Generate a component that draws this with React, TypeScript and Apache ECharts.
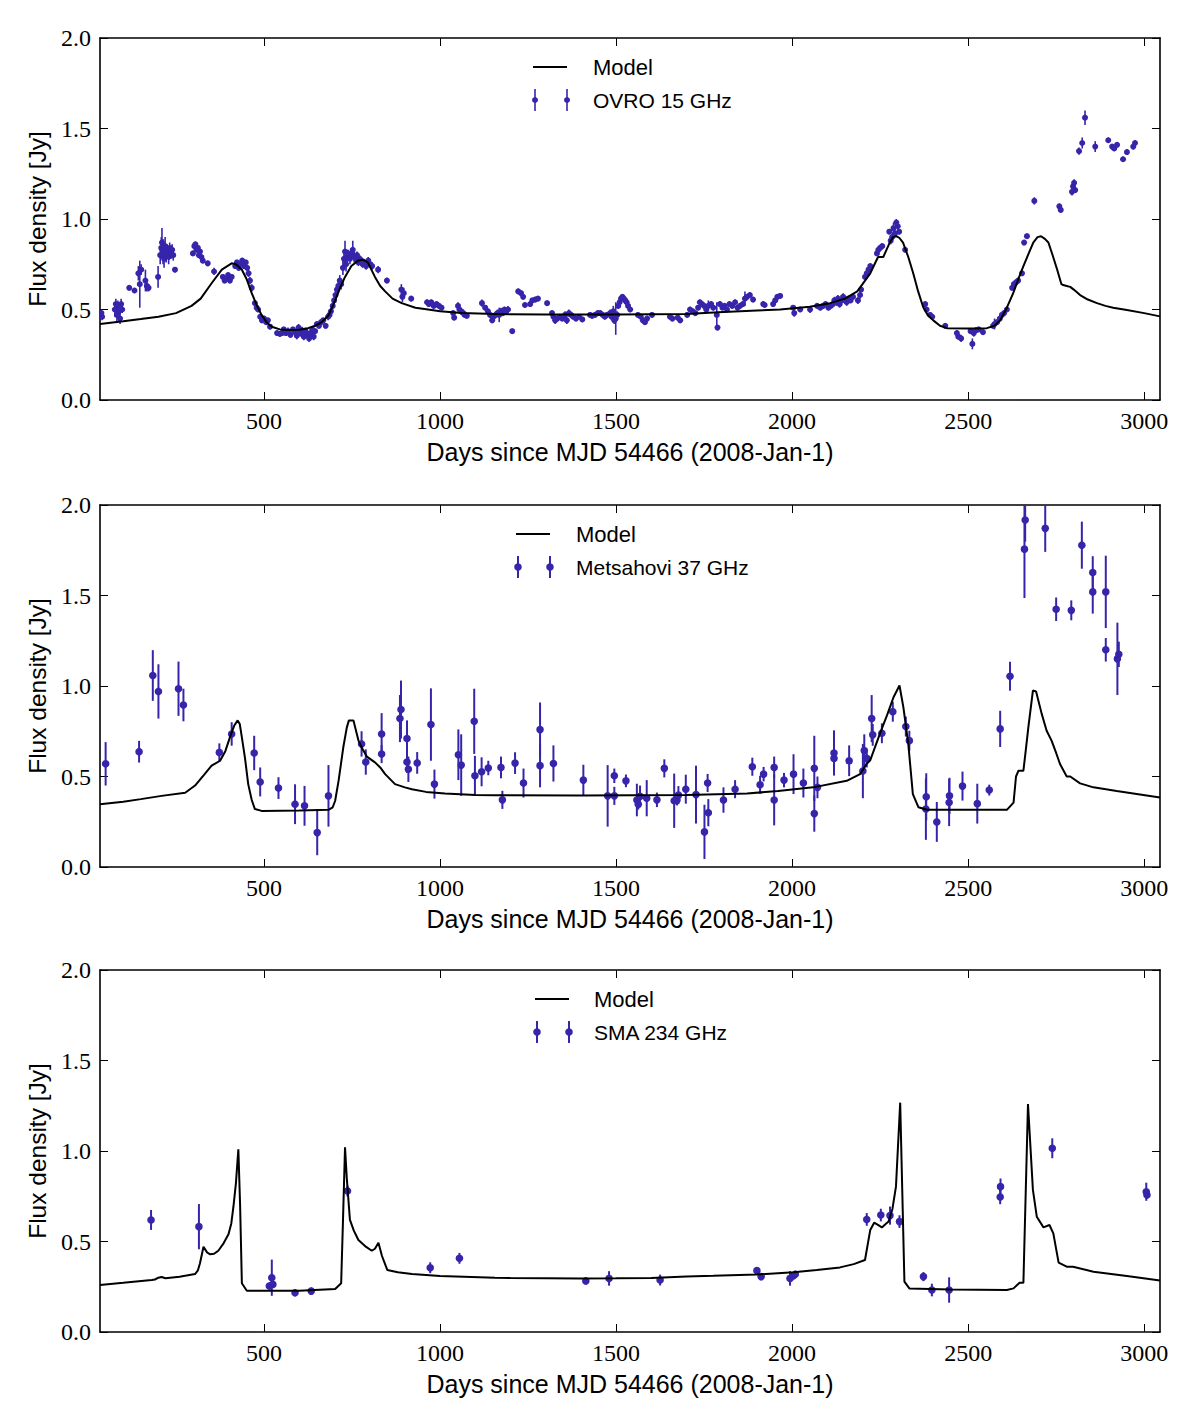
import React, { useEffect, useRef } from "react";
import * as echarts from "echarts";

// ---- Data: [day, flux density (Jy), 1-sigma error] ----
const ovroData: number[][] = [
  [38,0.48,0.02],[40,0.46,0.02],[76,0.50,0.04],[79,0.53,0.03],[82,0.47,0.04],[85,0.52,0.03],[88,0.49,0.05],[91,0.45,0.03],[94,0.53,0.03],[97,0.50,0.02],
  [117,0.62,0.015],[132,0.605,0.015],[143,0.70,0.04],[147,0.64,0.13],[151,0.72,0.03],[163,0.66,0.06],[167,0.63,0.03],[172,0.62,0.02],
  [199,0.68,0.06],[205,0.80,0.05],[208,0.84,0.06],[210,0.87,0.08],[213,0.82,0.07],[216,0.78,0.05],[219,0.85,0.05],[222,0.80,0.04],[225,0.83,0.03],[229,0.79,0.04],[232,0.84,0.03],[236,0.81,0.03],[239,0.83,0.03],[242,0.80,0.03],[247,0.72,0.015],
  [298,0.81,0.015],[302,0.85,0.015],[305,0.86,0.015],[308,0.83,0.015],[312,0.84,0.015],[315,0.80,0.015],[318,0.82,0.015],[322,0.79,0.015],[326,0.77,0.015],[340,0.755,0.015],[358,0.71,0.02],
  [383,0.68,0.015],[388,0.66,0.015],[393,0.67,0.015],[398,0.69,0.015],[403,0.66,0.015],[408,0.68,0.015],[418,0.74,0.015],[423,0.76,0.015],[428,0.73,0.015],[433,0.75,0.015],[438,0.77,0.015],[443,0.74,0.015],[448,0.76,0.015],[452,0.73,0.015],[456,0.70,0.02],[460,0.66,0.02],[465,0.62,0.02],
  [474,0.535,0.015],[479,0.51,0.015],[483,0.50,0.015],[489,0.46,0.015],[494,0.44,0.015],[500,0.45,0.015],[506,0.43,0.015],[511,0.44,0.015],[517,0.405,0.015],[537,0.37,0.015],[545,0.365,0.015],[551,0.37,0.015],
  [556,0.39,0.015],[562,0.37,0.015],[568,0.38,0.02],[575,0.36,0.015],[582,0.39,0.015],[588,0.375,0.02],[593,0.355,0.02],[598,0.40,0.02],[603,0.37,0.02],[608,0.385,0.02],[613,0.35,0.02],[618,0.38,0.02],[623,0.36,0.02],[628,0.34,0.02],[632,0.37,0.02],[637,0.39,0.015],[641,0.35,0.02],[645,0.38,0.015],
  [650,0.42,0.015],[656,0.41,0.015],[662,0.43,0.015],[668,0.44,0.015],[675,0.41,0.015],[682,0.46,0.02],[686,0.47,0.02],[690,0.49,0.02],[695,0.52,0.02],[699,0.55,0.03],[703,0.58,0.03],[707,0.61,0.03],[711,0.63,0.03],[715,0.66,0.03],[719,0.64,0.03],
  [724,0.73,0.04],[727,0.78,0.05],[730,0.82,0.06],[733,0.75,0.04],[736,0.79,0.04],[740,0.80,0.03],[744,0.78,0.03],[748,0.81,0.03],[752,0.83,0.05],[756,0.79,0.03],[760,0.78,0.02],[764,0.80,0.02],[768,0.76,0.02],[772,0.78,0.02],[776,0.77,0.02],[780,0.75,0.02],[784,0.76,0.02],[790,0.74,0.02],[796,0.77,0.02],[802,0.75,0.02],[807,0.74,0.02],
  [824,0.72,0.02],[849,0.66,0.015],[890,0.61,0.03],[893,0.57,0.03],[897,0.59,0.03],[918,0.56,0.015],
  [963,0.54,0.015],[968,0.53,0.015],[975,0.54,0.015],[982,0.52,0.015],[990,0.53,0.015],[997,0.52,0.015],[1004,0.51,0.015],
  [1037,0.48,0.015],[1040,0.455,0.015],[1051,0.52,0.02],[1055,0.50,0.02],[1060,0.49,0.02],[1066,0.48,0.02],[1070,0.47,0.015],[1076,0.465,0.015],[1119,0.535,0.02],
  [1128,0.51,0.015],[1136,0.49,0.015],[1142,0.47,0.015],[1148,0.44,0.015],[1152,0.46,0.015],[1158,0.47,0.015],[1163,0.48,0.02],[1168,0.47,0.04],[1173,0.49,0.02],[1178,0.48,0.015],[1183,0.50,0.015],[1188,0.49,0.015],[1193,0.50,0.02],[1205,0.38,0.015],
  [1222,0.60,0.015],[1230,0.59,0.015],[1236,0.57,0.015],[1241,0.525,0.015],[1256,0.53,0.015],[1262,0.55,0.015],[1270,0.555,0.015],[1278,0.56,0.015],[1304,0.535,0.015],
  [1318,0.48,0.015],[1322,0.46,0.02],[1327,0.44,0.02],[1333,0.45,0.015],[1340,0.46,0.015],[1347,0.45,0.015],[1355,0.47,0.02],[1360,0.44,0.02],[1366,0.48,0.02],[1372,0.47,0.015],[1378,0.46,0.015],[1386,0.45,0.015],[1395,0.46,0.015],[1404,0.445,0.015],
  [1426,0.47,0.015],[1432,0.465,0.015],[1440,0.47,0.015],[1448,0.48,0.015],[1455,0.48,0.015],[1462,0.47,0.015],[1468,0.46,0.015],[1474,0.47,0.015],
  [1483,0.48,0.02],[1487,0.46,0.02],[1492,0.49,0.03],[1495,0.44,0.02],[1499,0.45,0.09],[1503,0.47,0.02],
  [1506,0.52,0.015],[1510,0.54,0.015],[1514,0.56,0.015],[1518,0.57,0.015],[1522,0.56,0.015],[1526,0.55,0.015],[1530,0.54,0.015],[1534,0.52,0.015],[1540,0.50,0.015],
  [1562,0.47,0.015],[1570,0.46,0.015],[1576,0.44,0.015],[1582,0.43,0.015],[1588,0.45,0.015],[1602,0.47,0.015],
  [1653,0.46,0.015],[1660,0.45,0.015],[1675,0.455,0.015],[1682,0.44,0.015],
  [1702,0.47,0.015],[1710,0.50,0.015],[1718,0.49,0.015],[1725,0.48,0.015],[1733,0.51,0.015],[1738,0.54,0.015],[1744,0.53,0.015],[1750,0.52,0.015],[1756,0.50,0.015],[1762,0.52,0.03],[1770,0.53,0.015],[1776,0.51,0.015],[1786,0.47,0.07],[1788,0.40,0.015],
  [1795,0.53,0.015],[1802,0.51,0.015],[1808,0.52,0.015],[1815,0.50,0.015],[1822,0.53,0.015],[1830,0.52,0.015],[1838,0.54,0.015],[1845,0.51,0.015],[1852,0.52,0.015],[1860,0.53,0.015],
  [1866,0.56,0.04],[1872,0.57,0.015],[1880,0.58,0.015],[1889,0.555,0.015],[1918,0.53,0.015],[1922,0.525,0.015],
  [1946,0.53,0.015],[1952,0.55,0.015],[1958,0.57,0.015],[1966,0.575,0.015],
  [2003,0.51,0.015],[2006,0.48,0.02],[2023,0.50,0.015],[2051,0.50,0.02],
  [2071,0.52,0.015],[2080,0.51,0.015],[2088,0.52,0.015],[2095,0.53,0.015],[2103,0.51,0.015],[2110,0.52,0.015],[2116,0.53,0.015],
  [2120,0.55,0.02],[2126,0.54,0.02],[2130,0.56,0.02],[2135,0.53,0.02],[2140,0.55,0.03],[2145,0.57,0.02],[2150,0.55,0.02],[2155,0.54,0.02],[2160,0.56,0.015],[2166,0.55,0.015],[2173,0.57,0.015],[2187,0.55,0.02],
  [2193,0.58,0.02],[2196,0.61,0.015],[2207,0.68,0.015],[2212,0.70,0.015],[2217,0.72,0.015],[2222,0.74,0.015],
  [2241,0.81,0.015],[2245,0.83,0.015],[2250,0.84,0.015],[2256,0.85,0.015],[2276,0.93,0.015],[2280,0.88,0.02],[2284,0.90,0.02],[2288,0.95,0.03],[2292,0.92,0.02],[2296,0.98,0.02],[2300,0.96,0.02],[2304,0.93,0.015],[2321,0.83,0.015],
  [2378,0.53,0.015],[2382,0.50,0.015],[2392,0.47,0.015],[2398,0.46,0.015],[2435,0.41,0.015],
  [2468,0.37,0.015],[2472,0.35,0.015],[2480,0.34,0.02],[2507,0.38,0.015],[2512,0.31,0.03],[2516,0.37,0.02],[2522,0.385,0.015],[2530,0.39,0.015],[2542,0.375,0.015],
  [2571,0.41,0.015],[2575,0.42,0.03],[2582,0.43,0.015],[2590,0.45,0.015],[2596,0.47,0.015],[2602,0.48,0.015],[2610,0.50,0.015],
  [2625,0.62,0.015],[2630,0.64,0.015],[2636,0.65,0.015],[2642,0.66,0.015],[2653,0.70,0.015],[2659,0.87,0.015],[2667,0.905,0.015],[2688,1.10,0.02],
  [2759,1.07,0.015],[2763,1.05,0.015],[2795,1.15,0.02],[2798,1.18,0.02],[2801,1.20,0.02],[2804,1.16,0.015],[2815,1.375,0.02],[2824,1.42,0.03],[2832,1.56,0.04],[2861,1.40,0.03],[2898,1.435,0.015],[2909,1.40,0.015],[2915,1.39,0.015],[2923,1.41,0.015],[2940,1.33,0.015],[2951,1.37,0.015],[2969,1.40,0.015],[2974,1.42,0.015],
];

const metsahoviData: number[][] = [
  [50,0.57,0.12],[145,0.637,0.06],[184,1.058,0.14],[200,0.97,0.15],[257,0.985,0.15],[271,0.895,0.09],[373,0.633,0.05],[408,0.735,0.065],[472,0.63,0.095],[489,0.47,0.08],
  [541,0.436,0.06],[588,0.347,0.11],[615,0.338,0.11],[651,0.19,0.125],[683,0.393,0.17],[777,0.68,0.07],[789,0.58,0.07],[834,0.735,0.115],[834,0.624,0.05],[886,0.82,0.13],
  [889,0.87,0.16],[906,0.71,0.10],[906,0.58,0.06],[910,0.54,0.07],[935,0.575,0.06],[974,0.787,0.20],[984,0.458,0.08],[1052,0.62,0.14],[1060,0.563,0.17],[1097,0.805,0.18],
  [1099,0.504,0.11],[1118,0.526,0.08],[1137,0.547,0.04],[1173,0.55,0.06],[1177,0.371,0.05],[1213,0.574,0.06],[1237,0.464,0.08],[1284,0.759,0.15],[1284,0.56,0.12],[1322,0.572,0.10],
  [1407,0.48,0.085],[1476,0.393,0.17],[1495,0.393,0.05],[1495,0.504,0.04],[1528,0.476,0.035],[1559,0.37,0.09],[1563,0.347,0.03],[1568,0.39,0.06],[1587,0.38,0.10],[1616,0.371,0.04],
  [1637,0.545,0.05],[1665,0.366,0.15],[1673,0.37,0.03],[1677,0.397,0.05],[1698,0.43,0.08],[1727,0.40,0.16],[1751,0.194,0.15],[1760,0.464,0.05],[1762,0.30,0.075],[1805,0.37,0.07],
  [1838,0.43,0.05],[1887,0.554,0.05],[1909,0.454,0.05],[1919,0.513,0.04],[1949,0.55,0.06],[1949,0.37,0.14],[1977,0.48,0.04],[2004,0.513,0.11],[2032,0.464,0.08],[2063,0.545,0.18],
  [2063,0.295,0.10],[2072,0.44,0.06],[2119,0.63,0.125],[2119,0.60,0.06],[2162,0.587,0.085],[2201,0.53,0.15],[2205,0.643,0.09],[2212,0.60,0.05],[2226,0.82,0.13],[2229,0.73,0.06],
  [2255,0.739,0.055],[2286,0.858,0.055],[2323,0.776,0.055],[2333,0.698,0.055],[2380,0.32,0.17],[2381,0.388,0.13],[2411,0.249,0.11],[2446,0.356,0.13],[2447,0.393,0.10],[2484,0.447,0.08],
  [2526,0.35,0.11],[2560,0.425,0.03],[2591,0.763,0.10],[2619,1.054,0.08],[2660,1.756,0.27],[2662,1.917,0.12],[2719,1.871,0.13],[2750,1.424,0.065],[2793,1.418,0.055],[2823,1.778,0.13],
  [2854,1.627,0.09],[2854,1.52,0.12],[2891,1.52,0.20],[2891,1.20,0.065],[2924,1.15,0.20],[2928,1.175,0.07],
];

const smaData: number[][] = [
  [179,0.619,0.055],[315,0.582,0.125],[515,0.254,0.02],[522,0.30,0.10],[525,0.263,0.02],[588,0.217,0.02],[634,0.226,0.02],[737,0.779,0.03],[972,0.355,0.03],[1055,0.407,0.03],
  [1414,0.282,0.02],[1480,0.296,0.04],[1625,0.287,0.03],[1900,0.339,0.02],[1912,0.306,0.02],[1994,0.296,0.04],[2004,0.311,0.02],[2009,0.319,0.02],[2212,0.622,0.035],[2252,0.646,0.035],
  [2278,0.643,0.05],[2305,0.61,0.035],[2373,0.306,0.025],[2397,0.232,0.035],[2446,0.232,0.07],[2591,0.746,0.04],[2592,0.803,0.045],[2739,1.015,0.055],[3006,0.775,0.05],[3008,0.757,0.02],
];

// ---- Model light curves: [day, flux density (Jy)] ----
const ovroModel: number[][] = [
  [34,0.42],[100,0.435],[150,0.447],[200,0.46],[250,0.48],[294,0.52],[320,0.56],[351,0.645],[380,0.72],[408,0.755],[420,0.75],[437,0.72],[450,0.67],[465,0.59],[480,0.52],[493,0.47],[507,0.43],[522,0.405],[545,0.39],[568,0.387],[600,0.388],[625,0.397],[645,0.41],[664,0.43],[684,0.47],[702,0.55],[716,0.62],[730,0.68],[748,0.74],[767,0.77],[780,0.775],[795,0.76],[815,0.68],[830,0.63],[844,0.60],[865,0.56],[891,0.535],[930,0.51],[966,0.50],[1000,0.49],[1061,0.48],[1156,0.475],[1300,0.472],[1500,0.472],[1700,0.475],[1790,0.485],[1900,0.495],[1966,0.50],[2050,0.515],[2108,0.535],[2150,0.56],[2185,0.60],[2200,0.64],[2222,0.70],[2244,0.79],[2259,0.79],[2275,0.86],[2287,0.90],[2296,0.905],[2305,0.895],[2315,0.87],[2330,0.79],[2344,0.70],[2358,0.60],[2372,0.515],[2385,0.47],[2401,0.44],[2420,0.41],[2440,0.397],[2500,0.395],[2553,0.397],[2575,0.41],[2591,0.44],[2610,0.51],[2628,0.59],[2643,0.67],[2657,0.74],[2672,0.81],[2685,0.87],[2697,0.90],[2707,0.905],[2718,0.89],[2728,0.87],[2740,0.80],[2753,0.72],[2765,0.64],[2770,0.635],[2780,0.63],[2790,0.625],[2800,0.61],[2818,0.58],[2840,0.555],[2866,0.535],[2890,0.52],[2912,0.51],[2951,0.497],[3000,0.48],[3045,0.462],
];

const metsahoviModel: number[][] = [
  [34,0.347],[100,0.36],[150,0.375],[209,0.393],[276,0.41],[304,0.45],[330,0.51],[351,0.56],[375,0.587],[390,0.64],[403,0.716],[415,0.78],[425,0.81],[431,0.79],[437,0.716],[446,0.6],[455,0.458],[465,0.37],[474,0.32],[493,0.31],[600,0.312],[683,0.316],[695,0.33],[702,0.366],[712,0.48],[725,0.66],[735,0.77],[741,0.81],[754,0.81],[768,0.70],[780,0.65],[792,0.61],[815,0.578],[830,0.55],[844,0.513],[872,0.458],[900,0.44],[920,0.43],[960,0.415],[1014,0.406],[1100,0.398],[1156,0.397],[1400,0.395],[1700,0.398],[1872,0.406],[1960,0.42],[2060,0.44],[2155,0.476],[2193,0.513],[2212,0.57],[2222,0.59],[2250,0.74],[2270,0.84],[2288,0.938],[2305,1.003],[2316,0.883],[2330,0.68],[2343,0.403],[2359,0.33],[2383,0.316],[2500,0.316],[2610,0.316],[2629,0.356],[2636,0.50],[2643,0.532],[2657,0.532],[2664,0.65],[2671,0.772],[2684,0.975],[2693,0.97],[2709,0.846],[2723,0.753],[2737,0.698],[2750,0.63],[2761,0.569],[2780,0.50],[2790,0.50],[2818,0.462],[2856,0.44],[2922,0.42],[3045,0.384],
];

const smaModel: number[][] = [
  [34,0.26],[100,0.272],[181,0.287],[190,0.29],[200,0.30],[209,0.304],[220,0.297],[260,0.305],[304,0.32],[312,0.34],[318,0.38],[328,0.471],[338,0.44],[347,0.429],[358,0.432],[370,0.449],[385,0.49],[399,0.54],[407,0.6],[413,0.692],[420,0.82],[427,1.009],[432,0.7],[437,0.269],[451,0.228],[600,0.228],[702,0.238],[719,0.269],[724,0.6],[730,1.02],[735,0.85],[744,0.619],[755,0.56],[768,0.508],[790,0.47],[806,0.449],[815,0.46],[825,0.493],[835,0.42],[850,0.343],[880,0.33],[920,0.32],[1000,0.31],[1156,0.30],[1200,0.298],[1300,0.297],[1400,0.296],[1500,0.297],[1600,0.299],[1700,0.307],[1776,0.311],[1900,0.318],[2004,0.33],[2070,0.343],[2136,0.357],[2175,0.375],[2207,0.398],[2222,0.564],[2233,0.604],[2245,0.59],[2255,0.578],[2265,0.595],[2274,0.61],[2285,0.68],[2295,0.803],[2307,1.267],[2319,0.278],[2333,0.241],[2450,0.235],[2610,0.232],[2629,0.241],[2646,0.272],[2657,0.272],[2670,1.26],[2684,0.785],[2695,0.637],[2714,0.578],[2731,0.591],[2742,0.545],[2757,0.383],[2780,0.361],[2798,0.361],[2856,0.333],[2951,0.309],[3045,0.285],
];

const xTicks = [500, 1000, 1500, 2000, 2500, 3000];
const panelLabels = ["OVRO 15 GHz", "Metsahovi 37 GHz", "SMA 234 GHz"];
const X_MIN = 34;
const X_MAX = 3045;

const DATA_COLOR = "#3625aa";
const SERIF = "'Liberation Serif', 'Times New Roman', serif";
const SANS = "'Liberation Sans', Arial, sans-serif";

const GRID_TOPS = [38, 505, 970];
const GRID_HEIGHT = 362;
const GRID_LEFT = 100;
const GRID_WIDTH = 1060;

function errorBarSeries(data: number[][], idx: number, r: number, lw: number) {
  return {
    type: "custom",
    xAxisIndex: idx,
    yAxisIndex: idx,
    clip: true,
    data,
    encode: { x: 0, y: 1 },
    renderItem: (_params: any, api: any) => {
      const x = api.value(0);
      const y = api.value(1);
      const e = api.value(2);
      const c = api.coord([x, y]);
      const hi = api.coord([x, y + e]);
      const lo = api.coord([x, y - e]);
      return {
        type: "group",
        children: [
          { type: "line", shape: { x1: c[0], y1: hi[1], x2: c[0], y2: lo[1] }, style: { stroke: DATA_COLOR, lineWidth: lw } },
          { type: "circle", shape: { cx: c[0], cy: c[1], r }, style: { fill: DATA_COLOR } },
        ],
      };
    },
  };
}

function legendGraphics(i: number, lineX: number, textX: number, r: number, lw: number) {
  const top = GRID_TOPS[i];
  const y1 = top + 29;
  const y2 = top + 62;
  const markers = [lineX + 2, lineX + 34].map((mx) => ({
    type: "group",
    children: [
      { type: "line", shape: { x1: mx, y1: y2 - 11, x2: mx, y2: y2 + 11 }, style: { stroke: DATA_COLOR, lineWidth: lw } },
      { type: "circle", shape: { cx: mx, cy: y2, r }, style: { fill: DATA_COLOR } },
    ],
  }));
  return [
    { type: "line", shape: { x1: lineX, y1, x2: lineX + 34, y2: y1 }, style: { stroke: "#000", lineWidth: 2 } },
    { type: "text", x: textX, y: y1, style: { text: "Model", font: `22px ${SANS}`, fill: "#000", textVerticalAlign: "middle" } },
    ...markers,
    { type: "text", x: textX, y: y2, style: { text: panelLabels[i], font: `21px ${SANS}`, fill: "#000", textVerticalAlign: "middle" } },
  ];
}

export default function App() {
  const ref = useRef<HTMLDivElement>(null);

  useEffect(() => {
    if (!ref.current) return;
    const chart = echarts.init(ref.current, null, { renderer: "svg" });

    const grids = GRID_TOPS.map((t) => ({ left: GRID_LEFT, top: t, width: GRID_WIDTH, height: GRID_HEIGHT }));

    const axisLine = { show: true, onZero: false, lineStyle: { color: "#000", width: 1.6 } };
    const tick = { show: true, inside: true, length: 8, lineStyle: { color: "#000", width: 1 } };

    const bottomX = GRID_TOPS.map((_, i) => ({
      type: "value",
      gridIndex: i,
      position: "bottom",
      min: X_MIN,
      max: X_MAX,
      axisLine,
      axisTick: { ...tick, customValues: xTicks },
      axisLabel: {
        customValues: xTicks,
        color: "#000",
        fontFamily: SERIF,
        fontSize: 24,
        margin: 9,
        formatter: (v: number) => String(v),
      },
      splitLine: { show: false },
      name: "Days since MJD 54466 (2008-Jan-1)",
      nameLocation: "middle",
      nameGap: 39,
      nameTextStyle: { color: "#000", fontFamily: SANS, fontSize: 25 },
    }));
    const topX = GRID_TOPS.map((_, i) => ({
      type: "value",
      gridIndex: i,
      position: "top",
      min: X_MIN,
      max: X_MAX,
      axisLine,
      axisTick: { ...tick, customValues: xTicks },
      axisLabel: { show: false },
      splitLine: { show: false },
    }));
    const leftY = GRID_TOPS.map((_, i) => ({
      type: "value",
      gridIndex: i,
      position: "left",
      min: 0,
      max: 2,
      interval: 0.5,
      axisLine,
      axisTick: tick,
      axisLabel: { color: "#000", fontFamily: SERIF, fontSize: 24, margin: 9, formatter: (v: number) => v.toFixed(1) },
      splitLine: { show: false },
      name: "Flux density [Jy]",
      nameLocation: "middle",
      nameGap: 50,
      nameTextStyle: { color: "#000", fontFamily: SANS, fontSize: 24.5 },
    }));
    const rightY = GRID_TOPS.map((_, i) => ({
      type: "value",
      gridIndex: i,
      position: "right",
      min: 0,
      max: 2,
      interval: 0.5,
      axisLine,
      axisTick: tick,
      axisLabel: { show: false },
      splitLine: { show: false },
    }));

    const models = [ovroModel, metsahoviModel, smaModel];
    const lineSeries = models.map((m, i) => ({
      type: "line",
      xAxisIndex: i,
      yAxisIndex: i,
      data: m,
      showSymbol: false,
      symbol: "none",
      lineStyle: { color: "#000", width: 2 },
      clip: true,
      z: 2,
    }));

    const pointSeries = [
      errorBarSeries(ovroData, 0, 3, 1.6),
      errorBarSeries(metsahoviData, 1, 3.8, 2),
      errorBarSeries(smaData, 2, 3.8, 2),
    ];

    chart.setOption({
      animation: false,
      backgroundColor: "#fff",
      grid: grids,
      xAxis: [...bottomX, ...topX],
      yAxis: [...leftY, ...rightY],
      series: [...lineSeries, ...pointSeries],
      graphic: [
        ...legendGraphics(0, 533, 593, 3, 1.6),
        ...legendGraphics(1, 516, 576, 3.8, 2),
        ...legendGraphics(2, 535, 594, 3.8, 2),
      ],
    });

    return () => chart.dispose();
  }, []);

  return (
    <div
      ref={ref}
      style={{ position: "absolute", left: 0, top: 0, width: 1200, height: 1425, background: "#fff" }}
    />
  );
}
